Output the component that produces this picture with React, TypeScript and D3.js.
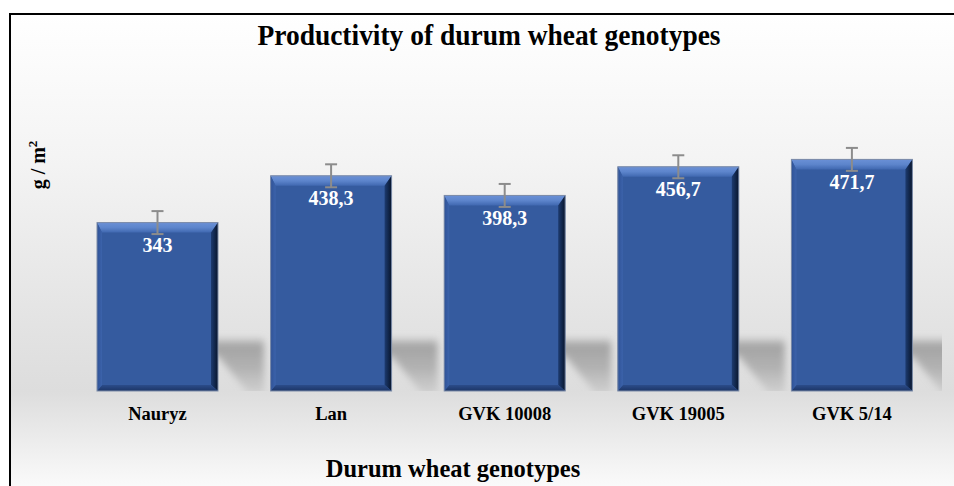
import React from "react";
import * as d3 from "d3";

const categories = ["Nauryz", "Lan", "GVK 10008", "GVK 19005", "GVK 5/14"];
const values = [343, 438.3, 398.3, 456.7, 471.7];
const valueLabels = ["343", "438,3", "398,3", "456,7", "471,7"];
const errors = [23.4, 23.4, 23.4, 23.4, 23.4];

const W = 954;
const H = 486;
const FONT = "'Liberation Serif', 'Times New Roman', serif";

export default function App() {
  const x = d3
    .scaleBand<string>()
    .domain(categories)
    .range([70.7, 938.7])
    .paddingInner(0.303)
    .paddingOuter(0.1515);
  const y = d3.scaleLinear().domain([0, 600]).range([391, 96.4]);
  const bw = x.bandwidth();
  const y0 = y(0);

  return (
    <svg
      width={W}
      height={H}
      style={{ position: "absolute", left: 0, top: 0, display: "block" }}
    >
      <defs>
        <linearGradient id="bg" x1="0" y1="14" x2="0" y2="486" gradientUnits="userSpaceOnUse">
          <stop offset="0" stopColor="#ffffff" />
          <stop offset="0.3" stopColor="#f4f4f4" />
          <stop offset="0.68" stopColor="#e2e2e2" />
          <stop offset="0.8" stopColor="#dddddd" />
          <stop offset="1" stopColor="#fafafa" />
        </linearGradient>
        <linearGradient id="shadowGrad" x1="0" y1="336" x2="0" y2="391" gradientUnits="userSpaceOnUse">
          <stop offset="0" stopColor="#9c9c9c" stopOpacity="0" />
          <stop offset="0.18" stopColor="#9c9c9c" stopOpacity="0.9" />
          <stop offset="0.6" stopColor="#a8a8a8" stopOpacity="0.8" />
          <stop offset="1" stopColor="#bcbcbc" stopOpacity="0.5" />
        </linearGradient>
        <filter id="blur" x="-20%" y="-30%" width="140%" height="160%">
          <feGaussianBlur stdDeviation="3.5" />
        </filter>
        <clipPath id="plotClip">
          <rect x={60} y={90} width={882} height={301} />
        </clipPath>
        <linearGradient id="topBevel" x1="0" y1="0" x2="0" y2="1">
          <stop offset="0" stopColor="#6a90d6" />
          <stop offset="0.5" stopColor="#5d85cc" />
          <stop offset="1" stopColor="#4068b0" />
        </linearGradient>
        <linearGradient id="rightBevel" x1="0" y1="0" x2="1" y2="0">
          <stop offset="0" stopColor="#1d3b70" />
          <stop offset="1" stopColor="#08152c" />
        </linearGradient>
        <linearGradient id="bottomBevel" x1="0" y1="0" x2="0" y2="1">
          <stop offset="0" stopColor="#2b4c8a" />
          <stop offset="1" stopColor="#1c3566" />
        </linearGradient>
        <linearGradient id="leftBevel" x1="0" y1="0" x2="1" y2="0">
          <stop offset="0" stopColor="#2f5296" />
          <stop offset="1" stopColor="#3c63ab" />
        </linearGradient>
      </defs>

      <rect x={10} y={14} width={W + 10} height={H + 10} fill="url(#bg)" stroke="#000" strokeWidth={2} />

      <text
        transform="translate(489,45) scale(0.915,1)"
        textAnchor="middle"
        fontFamily={FONT}
        fontWeight="bold"
        fontSize={30}
        fill="#000"
      >
        Productivity of durum wheat genotypes
      </text>

      {/* shadows */}
      <g clipPath="url(#plotClip)">
        <g filter="url(#blur)">
          {categories.map((c) => {
            const x0 = x(c)! + 20;
            const x1 = x(c)! + bw;
            const top = 338;
            const off = 46;
            return (
              <polygon
                key={"s" + c}
                points={`${x0},${top} ${x1 + off},${top} ${x1 + off},${y0 + 2} ${x1 + 30},${y0 + 2} ${x1},${top + 18} ${x0},${top + 18}`}
                fill="url(#shadowGrad)"
              />
            );
          })}
        </g>
      </g>

      {/* bars */}
      {categories.map((c, i) => {
        const x0 = x(c)!;
        const x1 = x0 + bw;
        const yt = y(values[i]);
        const dt = 10;
        const dr = 7;
        const db = 6;
        const dl = 5;
        return (
          <g key={"b" + c}>
            <rect x={x0} y={yt} width={bw} height={y0 - yt} fill="#355b9f" />
            <polygon
              points={`${x0},${yt} ${x1},${yt} ${x1 - dr},${yt + dt} ${x0 + dl},${yt + dt}`}
              fill="url(#topBevel)"
            />
            <polygon
              points={`${x1},${yt} ${x1},${y0} ${x1 - dr},${y0 - db} ${x1 - dr},${yt + dt}`}
              fill="url(#rightBevel)"
            />
            <polygon
              points={`${x0},${y0} ${x1},${y0} ${x1 - dr},${y0 - db} ${x0 + dl},${y0 - db}`}
              fill="url(#bottomBevel)"
            />
            <polygon
              points={`${x0},${yt} ${x0 + dl},${yt + dt} ${x0 + dl},${y0 - db} ${x0},${y0}`}
              fill="url(#leftBevel)"
            />
            <rect
              x={x0}
              y={yt}
              width={bw}
              height={y0 - yt}
              fill="none"
              stroke="#7d8ca8"
              strokeWidth={1}
            />
          </g>
        );
      })}

      {/* error bars */}
      {categories.map((c, i) => {
        const cx = x(c)! + bw / 2;
        const hi = y(values[i] + errors[i]);
        const lo = y(values[i] - errors[i]);
        return (
          <g key={"e" + c} stroke="#8c8c8c" strokeWidth={2}>
            <line x1={cx} x2={cx} y1={hi} y2={lo} />
            <line x1={cx - 6} x2={cx + 6} y1={hi} y2={hi} />
            <line x1={cx - 6} x2={cx + 6} y1={lo} y2={lo} />
          </g>
        );
      })}

      {/* value labels */}
      {categories.map((c, i) => (
        <text
          key={"v" + c}
          x={x(c)! + bw / 2}
          y={y(values[i]) + 29.5}
          textAnchor="middle"
          fontFamily={FONT}
          fontWeight="bold"
          fontSize={20}
          fill="#ffffff"
        >
          {valueLabels[i]}
        </text>
      ))}

      {/* category labels */}
      {categories.map((c) => (
        <text
          key={"c" + c}
          x={x(c)! + bw / 2}
          y={420}
          textAnchor="middle"
          fontFamily={FONT}
          fontWeight="bold"
          fontSize={18.5}
          fill="#000"
        >
          {c}
        </text>
      ))}

      <text
        x={453}
        y={477}
        textAnchor="middle"
        fontFamily={FONT}
        fontWeight="bold"
        fontSize={24.5}
        fill="#000"
      >
        Durum wheat genotypes
      </text>

      <text
        transform="translate(45,165) rotate(-90)"
        textAnchor="middle"
        fontFamily={FONT}
        fontWeight="bold"
        fontSize={20}
        fill="#000"
      >
        g / m<tspan dy={-8} fontSize={13}>2</tspan>
      </text>
    </svg>
  );
}
